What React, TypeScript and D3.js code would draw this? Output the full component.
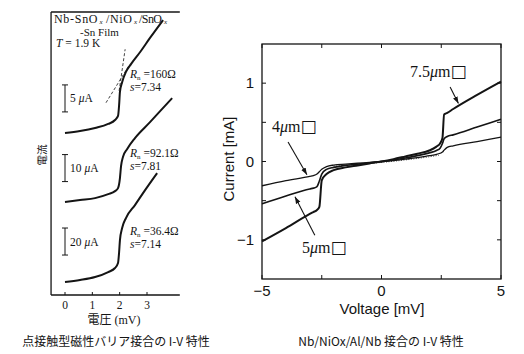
import * as d3 from "d3"

// ---- left: point-contact Nb-SnOx/NiOx/SnOx-Sn, three I-V traces (V in mV, I in µA) ----
const pcVolt1 = [0, 0.55, 1.1, 1.58, 1.83, 1.94, 1.98, 2.01, 2.09, 2.23, 2.42, 2.75, 3.11, 3.59]
const pcCur1 = [0, 0.37, 0.93, 1.67, 2.4, 3.15, 5.2, 7.6, 9.4, 11.3, 12.8, 15, 17.6, 20.9]

const pcVolt2 = [0, 0.55, 1.1, 1.58, 1.83, 1.94, 2.01, 2.05, 2.12, 2.27, 2.56, 3.11, 3.48, 3.92]
const pcCur2 = [0, 0.74, 1.48, 2.96, 4.07, 5.19, 8.9, 13.3, 16.7, 19.6, 23.7, 29.6, 33.7, 38.5]

const pcVolt3 = [0, 0.55, 1.1, 1.58, 1.83, 1.94, 1.98, 2.01, 2.09, 2.23, 2.56, 2.93, 3.37]
const pcCur3 = [0, 1.5, 3.7, 7.4, 10.4, 14.1, 22.2, 31.1, 40, 47.4, 57, 68.1, 80.7]

const pcBarUA = [5, 10, 20]
const pcRn = ["160Ω", "92.1Ω", "36.4Ω"]
const pcS = ["7.34", "7.81", "7.14"]
const pcTicks = [0, 1, 2, 3]

// title pieces (main text, then subscript x after each)
const titleParts = ["Nb-SnO", "/NiO", "/SnO"]

// dashed tangents on the top trace
const tanSteepV = [1.98, 2.2]
const tanSteepI = [7.8, 15.5]
const tanSlopeV = [1.5, 2.33]
const tanSlopeI = [5.6, 12.4]

// ---- right: Nb/NiOx/Al/Nb junctions (V in mV, I in mA) ----
const jVolt = [-5, -4, -3, -2.85, -2.7, -2.6, -2.5, -2.3, -2, -1.5, -1, -0.5, 0, 0.5, 1, 1.5, 2, 2.3, 2.45, 2.55, 2.62, 2.75, 3, 4, 5]
const j75 = [-1.02, -0.85, -0.67, -0.645, -0.62, -0.58, -0.24, -0.16, -0.11, -0.075, -0.05, -0.025, 0, 0.03, 0.065, 0.1, 0.14, 0.19, 0.23, 0.3, 0.6, 0.62, 0.67, 0.85, 1.02]
const j5 = [-0.54, -0.44, -0.35, -0.34, -0.32, -0.25, -0.16, -0.1, -0.075, -0.05, -0.033, -0.017, 0, 0.02, 0.045, 0.075, 0.11, 0.14, 0.17, 0.23, 0.29, 0.32, 0.34, 0.44, 0.54]
const j4 = [-0.31, -0.245, -0.19, -0.18, -0.16, -0.13, -0.1, -0.065, -0.045, -0.033, -0.022, -0.011, 0, 0.012, 0.03, 0.05, 0.075, 0.09, 0.105, 0.12, 0.145, 0.18, 0.2, 0.255, 0.31]
const dotVolt = [-2, -1, 0, 1, 2, 2.4]
const dotCur = [-0.06, -0.035, -0.012, 0.02, 0.06, 0.08]

const jXTicks = [-5, -2.5, 0, 2.5, 5]
const jXLabels = [-5, 0, 5]
const jYTicks = [-1, -0.5, 0, 0.5, 1]
const jYLabels = [-1, 0, 1]

const serif = "'Liberation Serif', 'DejaVu Serif', serif"
const sans = "'Liberation Sans', Arial, sans-serif"
const cjk = "'Noto Sans CJK JP', sans-serif"
const ink = "#141414"

export default function App() {
  // left panel scales: x in mV, y in "scale-bar divisions"
  const xL = d3.scaleLinear().domain([0, 3]).range([65, 147])
  const yL = d3.scaleLinear().domain([0, 10.48]).range([295, 12])
  const traceBase = [6.0, 3.44, 0.48]
  const barBottom = [0.78, 0.76, 1.0]
  const rnOffset = [2.04, 1.67, 1.74]
  const traces = [
    { v: pcVolt1, i: pcCur1 },
    { v: pcVolt2, i: pcCur2 },
    { v: pcVolt3, i: pcCur3 },
  ]
  const leftPath = (v: number[], i: number[], k: number) =>
    d3
      .line<number>()
      .x((_, j) => xL(v[j]))
      .y((d) => yL(traceBase[k] + d / pcBarUA[k]))
      .curve(d3.curveMonotoneX)(i) || ""
  const tanPath = (v: number[], i: number[]) =>
    d3
      .line<number>()
      .x((_, j) => xL(v[j]))
      .y((d) => yL(traceBase[0] + d / pcBarUA[0]))(i) || ""

  // right panel scales
  const xR = d3.scaleLinear().domain([-5, 5]).range([262, 501])
  const yR = d3.scaleLinear().domain([-1.5, 1.5]).range([279, 44])
  const rightPath = (v: number[], i: number[]) =>
    d3
      .line<number>()
      .x((_, j) => xR(v[j]))
      .y((d) => yR(d))
      .curve(d3.curveMonotoneX)(i) || ""

  const leftEdge = xL(-0.51)
  const rightEdgeL = xL(4.2)

  // title layout: start x and stretched width of each piece
  const titleX = [54, 106, 139]
  const titleW = [43.5, 26, 23]

  return (
    <svg
      width={524}
      height={354}
      style={{ position: "absolute", left: 0, top: 0, background: "#fff" }}
    >
      <defs>
        <marker id="ah" viewBox="0 0 10 10" refX="10" refY="5" markerWidth="7" markerHeight="7" markerUnits="userSpaceOnUse" orient="auto">
          <path d="M0,1.5 L10,5 L0,8.5 z" fill={ink} />
        </marker>
      </defs>

      {/* ===== left panel ===== */}
      <g fill="none" stroke={ink} strokeWidth={1.3}>
        <line x1={leftEdge} x2={leftEdge} y1={yL(10.48)} y2={yL(0)} />
        <line x1={leftEdge} x2={rightEdgeL} y1={yL(10.48)} y2={yL(10.48)} />
        <line x1={leftEdge} x2={rightEdgeL} y1={yL(0)} y2={yL(0)} />
      </g>
      {pcTicks.map((t) => (
        <g key={t}>
          <line x1={xL(t)} x2={xL(t)} y1={yL(0)} y2={yL(0) - 3} stroke={ink} strokeWidth={1} />
          <text x={xL(t)} y={yL(0) + 14} textAnchor="middle" fontFamily={serif} fontSize={11.5} fill={ink}>
            {t}
          </text>
        </g>
      ))}
      <text x={114} y={324} textAnchor="middle" fontFamily={serif} fontSize={12} fill={ink}>
        <tspan fontFamily={cjk}>電圧</tspan> (mV)
      </text>
      <text transform="translate(46,155) rotate(-90)" textAnchor="middle" fontFamily={cjk} fontSize={10.5} fill={ink}>
        電流
      </text>

      {titleParts.map((p, k) => (
        <g key={p}>
          <text x={titleX[k]} y={22.5} fontFamily={serif} fontSize={12} fill={ink} textLength={titleW[k]} lengthAdjust="spacing">
            {p}
          </text>
          <text x={titleX[k] + titleW[k] + 2} y={24} fontFamily={serif} fontSize={7} fontStyle="italic" fill={ink}>
            x
          </text>
        </g>
      ))}
      <text x={80} y={35.5} fontFamily={serif} fontSize={11} fill={ink}>
        -Sn Film
      </text>
      <text x={56} y={46.5} fontFamily={serif} fontSize={11.5} fill={ink}>
        <tspan fontStyle="italic">T</tspan> = 1.9 K
      </text>

      <path d={tanPath(tanSteepV, tanSteepI)} fill="none" stroke={ink} strokeWidth={0.8} strokeDasharray="3,2" />
      <path d={tanPath(tanSlopeV, tanSlopeI)} fill="none" stroke={ink} strokeWidth={0.8} strokeDasharray="3,2" />

      {traces.map((tr, k) => {
        const b0 = yL(traceBase[k] + barBottom[k])
        const b1 = yL(traceBase[k] + barBottom[k] + 1)
        const rnY = yL(traceBase[k] + rnOffset[k])
        return (
          <g key={k}>
            <path d={leftPath(tr.v, tr.i, k)} fill="none" stroke={ink} strokeWidth={2} />
            <g stroke={ink} strokeWidth={1}>
              <line x1={xL(0)} x2={xL(0)} y1={b0} y2={b1} />
              <line x1={xL(0) - 3} x2={xL(0) + 3} y1={b0} y2={b0} />
              <line x1={xL(0) - 3} x2={xL(0) + 3} y1={b1} y2={b1} />
            </g>
            <text x={xL(0) + 5} y={(b0 + b1) / 2 + 4} fontFamily={serif} fontSize={11.5} fill={ink}>
              {pcBarUA[k]} <tspan fontStyle="italic">μ</tspan>A
            </text>
            <text x={130} y={rnY} fontFamily={serif} fontSize={11.5} fill={ink}>
              <tspan fontStyle="italic">R</tspan>
              <tspan fontSize={7} dy={2}>n</tspan>
              <tspan dy={-2}> ={pcRn[k]}</tspan>
            </text>
            <text x={130} y={rnY + 13} fontFamily={serif} fontSize={11.5} fill={ink}>
              <tspan fontStyle="italic">s</tspan>={pcS[k]}
            </text>
          </g>
        )
      })}

      {/* ===== right panel ===== */}
      <rect x={xR(-5)} y={yR(1.5)} width={xR(5) - xR(-5)} height={yR(-1.5) - yR(1.5)} fill="none" stroke={ink} strokeWidth={1.3} />
      {jXTicks.map((t) => (
        <g key={t} stroke={ink} strokeWidth={1}>
          <line x1={xR(t)} x2={xR(t)} y1={yR(-1.5)} y2={yR(-1.5) - 4} />
          <line x1={xR(t)} x2={xR(t)} y1={yR(1.5)} y2={yR(1.5) + 4} />
        </g>
      ))}
      {jYTicks.map((t) => (
        <g key={t} stroke={ink} strokeWidth={1}>
          <line x1={xR(-5)} x2={xR(-5) + 4} y1={yR(t)} y2={yR(t)} />
          <line x1={xR(5)} x2={xR(5) - 4} y1={yR(t)} y2={yR(t)} />
        </g>
      ))}
      {jXLabels.map((t) => (
        <text key={t} x={xR(t)} y={296} textAnchor="middle" fontFamily={sans} fontSize={15} fill={ink}>
          {t < 0 ? "−" + Math.abs(t) : t}
        </text>
      ))}
      {jYLabels.map((t) => (
        <text key={t} x={254} y={yR(t) + 5} textAnchor="end" fontFamily={sans} fontSize={15} fill={ink}>
          {t < 0 ? "−" + Math.abs(t) : t}
        </text>
      ))}
      <text x={382} y={314} textAnchor="middle" fontFamily={sans} fontSize={15} fill={ink}>
        Voltage  [mV]
      </text>
      <text transform="translate(234,159) rotate(-90)" textAnchor="middle" fontFamily={sans} fontSize={15} fill={ink}>
        Current  [mA]
      </text>

      <path d={rightPath(dotVolt, dotCur)} fill="none" stroke={ink} strokeWidth={0.8} strokeDasharray="1,1.5" />
      <path d={rightPath(jVolt, j4)} fill="none" stroke={ink} strokeWidth={1.3} />
      <path d={rightPath(jVolt, j5)} fill="none" stroke={ink} strokeWidth={1.6} />
      <path d={rightPath(jVolt, j75)} fill="none" stroke={ink} strokeWidth={2} />

      {/* annotations */}
      <line x1={xR(2.87)} y1={yR(0.95)} x2={xR(3.22)} y2={yR(0.74)} stroke={ink} strokeWidth={1.1} markerEnd="url(#ah)" />
      <text x={xR(1.19)} y={yR(1.08)} fontFamily={serif} fontSize={16} fill={ink}>
        7.5<tspan fontStyle="italic">μ</tspan>m<tspan fontFamily="'DejaVu Sans'" fontSize={17}>□</tspan>
      </text>
      <line x1={xR(-3.91)} y1={yR(0.25)} x2={xR(-3.12)} y2={yR(-0.17)} stroke={ink} strokeWidth={1.1} markerEnd="url(#ah)" />
      <text x={xR(-4.58)} y={yR(0.38)} fontFamily={serif} fontSize={16} fill={ink}>
        4<tspan fontStyle="italic">μ</tspan>m<tspan fontFamily="'DejaVu Sans'" fontSize={17}>□</tspan>
      </text>
      <line x1={xR(-2.79)} y1={yR(-0.94)} x2={xR(-3.62)} y2={yR(-0.45)} stroke={ink} strokeWidth={1.1} markerEnd="url(#ah)" />
      <text x={xR(-3.33)} y={yR(-1.17)} fontFamily={serif} fontSize={16} fill={ink}>
        5<tspan fontStyle="italic">μ</tspan>m<tspan fontFamily="'DejaVu Sans'" fontSize={17}>□</tspan>
      </text>

      {/* captions */}
      <text x={116} y={346} textAnchor="middle" fontFamily={cjk} fontSize={12} fill={ink}>
        点接触型磁性バリア接合の I-V 特性
      </text>
      <text x={381} y={346} textAnchor="middle" fontFamily={cjk} fontSize={12} fill={ink}>
        Nb/NiOx/Al/Nb 接合の I-V 特性
      </text>
    </svg>
  )
}
